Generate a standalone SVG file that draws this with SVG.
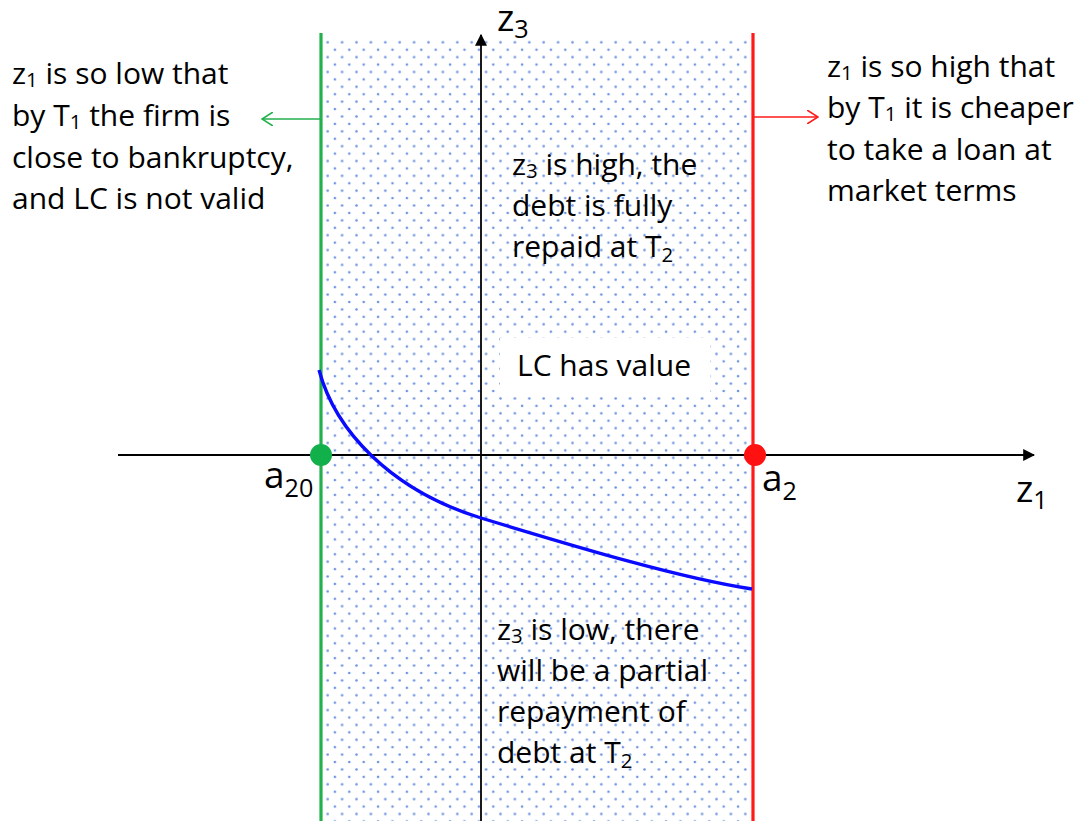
<svg xmlns="http://www.w3.org/2000/svg" width="1084" height="821" viewBox="0 0 1084 821">
<defs>
<pattern id="dots" patternUnits="userSpaceOnUse" x="326.2" y="40.8" width="14.4" height="14.84">
<circle cx="1.5" cy="1.5" r="1.3" fill="#6d93e0"/>
<circle cx="8.7" cy="8.92" r="1.3" fill="#6d93e0"/>
</pattern>
<marker id="filled" viewBox="0 0 10 10" refX="9" refY="5" markerWidth="12" markerHeight="12" markerUnits="userSpaceOnUse" orient="auto">
<path d="M0,0 L10,5 L0,10 Z" fill="#000"/>
</marker>
<marker id="openG" viewBox="0 0 12 14" refX="11" refY="7" markerWidth="12" markerHeight="14" markerUnits="userSpaceOnUse" orient="auto">
<path d="M0,0 L11,7 L0,14" fill="none" stroke="#22b14c" stroke-width="1.6"/>
</marker>
<marker id="openR" viewBox="0 0 12 14" refX="11" refY="7" markerWidth="12" markerHeight="14" markerUnits="userSpaceOnUse" orient="auto">
<path d="M0,0 L11,7 L0,14" fill="none" stroke="#ff1a1a" stroke-width="1.6"/>
</marker>
</defs>
<style>
text{font-family:"Open Sans","Liberation Sans",sans-serif;fill:#000;}
.t{font-size:30px;}
.ax{font-size:37px;}
.s{font-size:0.68em;}
</style>
<rect width="1084" height="821" fill="#fff"/>
<rect x="323" y="38" width="428" height="783" fill="url(#dots)"/>
<rect x="500" y="338" width="210" height="56" fill="#fff"/>

<g id="connectors">
<line x1="481" y1="821" x2="481" y2="35" stroke="#000" stroke-width="1.8" marker-end="url(#filled)"/>
<line x1="118" y1="455" x2="1034" y2="455" stroke="#000" stroke-width="1.8" marker-end="url(#filled)"/>
<line x1="321" y1="119" x2="262" y2="119" stroke="#22b14c" stroke-width="1.6" marker-end="url(#openG)"/>
<line x1="753" y1="117" x2="818" y2="117" stroke="#ff1a1a" stroke-width="1.6" marker-end="url(#openR)"/>
</g>

<g id="green-line"><line x1="321" y1="33" x2="321" y2="821" stroke="#22b14c" stroke-width="3.2"/></g>
<g id="red-line"><line x1="753" y1="33" x2="753" y2="821" stroke="#ff1a1a" stroke-width="3.2"/></g>

<g id="curve"><path d="M319,370 C335,430 390,490 481,518 C580,548 680,578 752,589" fill="none" stroke="#0a0aff" stroke-width="3.4"/></g>

<g id="point-a20"><circle cx="321" cy="455" r="11" fill="#12b04a"/>
<text class="ax" x="264" y="488">a<tspan class="s" dy="9">20</tspan></text></g>
<g id="point-a2"><circle cx="755" cy="455" r="11" fill="#ff1111"/>
<text class="ax" x="762" y="491">a<tspan class="s" dy="9">2</tspan></text></g>

<g id="axis-z3"><text class="ax" x="497" y="31">z<tspan class="s" dy="7">3</tspan></text></g>
<g id="axis-z1"><text class="ax" x="1016" y="502">z<tspan class="s" dy="7">1</tspan></text></g>

<g id="left-note">
<text class="t" x="12" y="84">z<tspan class="s" dy="3">1</tspan><tspan dy="-3"> is so low that</tspan></text>
<text class="t" x="12" y="126">by T<tspan class="s" dy="3">1</tspan><tspan dy="-3"> the firm is</tspan></text>
<text class="t" x="12" y="168">close to bankruptcy,</text>
<text class="t" x="12" y="209">and LC is not valid</text>
</g>

<g id="right-note">
<text class="t" x="827" y="77">z<tspan class="s" dy="3">1</tspan><tspan dy="-3"> is so high that</tspan></text>
<text class="t" x="827" y="118">by T<tspan class="s" dy="3">1</tspan><tspan dy="-3"> it is cheaper</tspan></text>
<text class="t" x="827" y="160">to take a loan at</text>
<text class="t" x="827" y="201">market terms</text>
</g>

<g id="high-note">
<text class="t" x="512" y="175">z<tspan class="s" dy="3">3</tspan><tspan dy="-3"> is high, the</tspan></text>
<text class="t" x="512" y="216">debt is fully</text>
<text class="t" x="512" y="257">repaid at T<tspan class="s" dy="5">2</tspan></text>
</g>

<g id="value-note"><text class="t" x="517" y="376">LC has value</text></g>

<g id="low-note">
<text class="t" x="497" y="640">z<tspan class="s" dy="3">3</tspan><tspan dy="-3"> is low, there</tspan></text>
<text class="t" x="497" y="681">will be a partial</text>
<text class="t" x="497" y="722">repayment of</text>
<text class="t" x="497" y="763">debt at T<tspan class="s" dy="5">2</tspan></text>
</g>
</svg>
